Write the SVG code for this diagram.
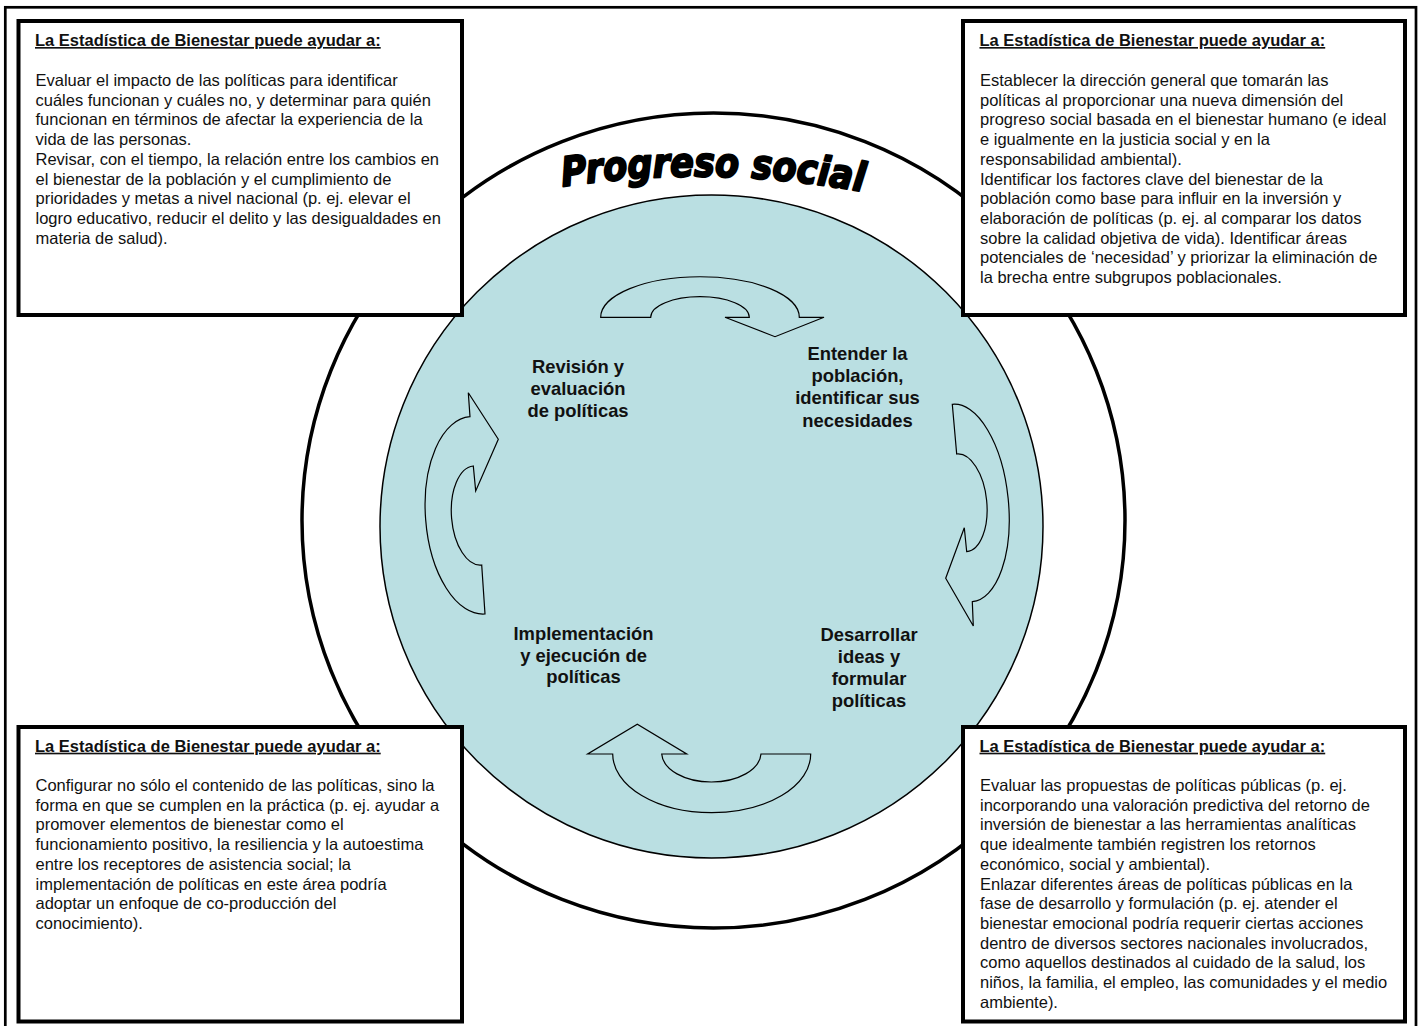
<svg xmlns="http://www.w3.org/2000/svg" width="1422" height="1026" viewBox="0 0 1422 1026">
<style>
.frame{fill:none;stroke:#000;stroke-width:2.7}
.box{fill:#fff;stroke:#000;stroke-width:4}
.txt{font-family:"Liberation Sans",Arial,sans-serif;font-size:16.5px;fill:#111}
.hdr{font-weight:bold;text-decoration:underline}
.lbl{font-family:"Liberation Sans",Arial,sans-serif;font-size:18.4px;font-weight:bold;fill:#111;text-anchor:middle}
.arrow{fill:#BADFE2;stroke:#000;stroke-width:1.2;stroke-linejoin:miter}
.title{font-family:"DejaVu Sans","Liberation Sans",sans-serif;font-size:35px;font-weight:bold;font-style:italic;fill:#000;stroke:#000;stroke-width:1.8;stroke-linejoin:round}
</style>
<defs>
<path id="titleArc" d="M550,187.5 Q712,164 876,192.5"/>
</defs>
<rect class="frame" x="5.3" y="7.3" width="1410.7" height="1040"/>
<g id="progress-circle">
<ellipse cx="713.5" cy="520.5" rx="411.5" ry="407.5" fill="#fff" stroke="#000" stroke-width="3.5"/>
<circle cx="711.5" cy="526.5" r="331.5" fill="#BADFE2" stroke="#000" stroke-width="1.5"/>
<text class="title" transform="translate(0,-27) scale(1,1.15)"><textPath href="#titleArc" startOffset="50%" text-anchor="middle">Progreso social</textPath></text>
</g>
<g id="connectors">
<path class="arrow" d="M600.7,317.3 A99.3,40.6 0 0 1 799.3,317.3 L824,317.3 L775,336.7 L725,317.3 L749.3,317.3 A49.3,20.6 0 0 0 650.7,317.3 Z"/>
<path class="arrow" d="M952.3,404.3 A46,99 -5.8 0 1 972.3,601.7 L973.3,626 L945.7,578.3 L964.3,527.7 L966.7,551.7 A25,49 -5.8 0 0 956.7,454 Z"/>
<path class="arrow" d="M810.7,754 A99,58.7 0 0 1 612.7,754 L587.7,754 L637.3,724.3 L686.7,754 L661.7,754 A49.7,29.3 0 0 0 761,754 Z"/>
<path class="arrow" d="M485,614 A52,98.9 -4.3 0 1 470,416.7 L468.3,392.7 L498.3,439.3 L475.7,491 L473.3,466 A26,49.6 -4.3 0 0 481.7,565 Z"/>
</g>
<g id="node-revision">
<text class="lbl"><tspan x="578" y="372.7">Revisión y</tspan><tspan x="578" y="394.6">evaluación</tspan><tspan x="578" y="416.5">de políticas</tspan></text>
</g>
<g id="node-entender">
<text class="lbl"><tspan x="857.5" y="360">Entender la</tspan><tspan x="857.5" y="382.2">población,</tspan><tspan x="857.5" y="404.4">identificar sus</tspan><tspan x="857.5" y="426.6">necesidades</tspan></text>
</g>
<g id="node-desarrollar">
<text class="lbl"><tspan x="869" y="640.7">Desarrollar</tspan><tspan x="869" y="662.9">ideas y</tspan><tspan x="869" y="685.1">formular</tspan><tspan x="869" y="707.3">políticas</tspan></text>
</g>
<g id="node-implementacion">
<text class="lbl"><tspan x="583.5" y="640">Implementación</tspan><tspan x="583.5" y="661.7">y ejecución de</tspan><tspan x="583.5" y="683.4">políticas</tspan></text>
</g>
<g id="box-top-left">
<rect class="box" x="18.5" y="21" width="443.5" height="294"/>
<text class="txt hdr" x="35" y="46">La Estadística de Bienestar puede ayudar a:</text>
<text class="txt">
<tspan x="35.5" y="86">Evaluar el impacto de las políticas para identificar</tspan>
<tspan x="35.5" y="105.7">cuáles funcionan y cuáles no, y determinar para quién</tspan>
<tspan x="35.5" y="125.4">funcionan en términos de afectar la experiencia de la</tspan>
<tspan x="35.5" y="145.1">vida de las personas.</tspan>
<tspan x="35.5" y="164.8">Revisar, con el tiempo, la relación entre los cambios en</tspan>
<tspan x="35.5" y="184.5">el bienestar de la población y el cumplimiento de</tspan>
<tspan x="35.5" y="204.2">prioridades y metas a nivel nacional (p. ej. elevar el</tspan>
<tspan x="35.5" y="223.9">logro educativo, reducir el delito y las desigualdades en</tspan>
<tspan x="35.5" y="243.6">materia de salud).</tspan>
</text>
</g>
<g id="box-top-right">
<rect class="box" x="963" y="21" width="442" height="294"/>
<text class="txt hdr" x="979.5" y="46">La Estadística de Bienestar puede ayudar a:</text>
<text class="txt">
<tspan x="980" y="86">Establecer la dirección general que tomarán las</tspan>
<tspan x="980" y="105.7">políticas al proporcionar una nueva dimensión del</tspan>
<tspan x="980" y="125.4">progreso social basada en el bienestar humano (e ideal</tspan>
<tspan x="980" y="145.1">e igualmente en la justicia social y en la</tspan>
<tspan x="980" y="164.8">responsabilidad ambiental).</tspan>
<tspan x="980" y="184.5">Identificar los factores clave del bienestar de la</tspan>
<tspan x="980" y="204.2">población como base para influir en la inversión y</tspan>
<tspan x="980" y="223.9">elaboración de políticas (p. ej. al comparar los datos</tspan>
<tspan x="980" y="243.6">sobre la calidad objetiva de vida). Identificar áreas</tspan>
<tspan x="980" y="263.3">potenciales de ‘necesidad’ y priorizar la eliminación de</tspan>
<tspan x="980" y="283">la brecha entre subgrupos poblacionales.</tspan>
</text>
</g>
<g id="box-bottom-left">
<rect class="box" x="18.5" y="727" width="443.5" height="294.5"/>
<text class="txt hdr" x="35" y="751.7">La Estadística de Bienestar puede ayudar a:</text>
<text class="txt">
<tspan x="35.5" y="791">Configurar no sólo el contenido de las políticas, sino la</tspan>
<tspan x="35.5" y="810.7">forma en que se cumplen en la práctica (p. ej. ayudar a</tspan>
<tspan x="35.5" y="830.4">promover elementos de bienestar como el</tspan>
<tspan x="35.5" y="850.1">funcionamiento positivo, la resiliencia y la autoestima</tspan>
<tspan x="35.5" y="869.8">entre los receptores de asistencia social; la</tspan>
<tspan x="35.5" y="889.5">implementación de políticas en este área podría</tspan>
<tspan x="35.5" y="909.2">adoptar un enfoque de co-producción del</tspan>
<tspan x="35.5" y="928.9">conocimiento).</tspan>
</text>
</g>
<g id="box-bottom-right">
<rect class="box" x="963" y="727" width="442" height="294.5"/>
<text class="txt hdr" x="979.5" y="751.7">La Estadística de Bienestar puede ayudar a:</text>
<text class="txt">
<tspan x="980" y="791">Evaluar las propuestas de políticas públicas (p. ej.</tspan>
<tspan x="980" y="810.7">incorporando una valoración predictiva del retorno de</tspan>
<tspan x="980" y="830.4">inversión de bienestar a las herramientas analíticas</tspan>
<tspan x="980" y="850.1">que idealmente también registren los retornos</tspan>
<tspan x="980" y="869.8">económico, social y ambiental).</tspan>
<tspan x="980" y="889.5">Enlazar diferentes áreas de políticas públicas en la</tspan>
<tspan x="980" y="909.2">fase de desarrollo y formulación (p. ej. atender el</tspan>
<tspan x="980" y="928.9">bienestar emocional podría requerir ciertas acciones</tspan>
<tspan x="980" y="948.6">dentro de diversos sectores nacionales involucrados,</tspan>
<tspan x="980" y="968.3">como aquellos destinados al cuidado de la salud, los</tspan>
<tspan x="980" y="988">niños, la familia, el empleo, las comunidades y el medio</tspan>
<tspan x="980" y="1007.7">ambiente).</tspan>
</text>
</g>
</svg>
